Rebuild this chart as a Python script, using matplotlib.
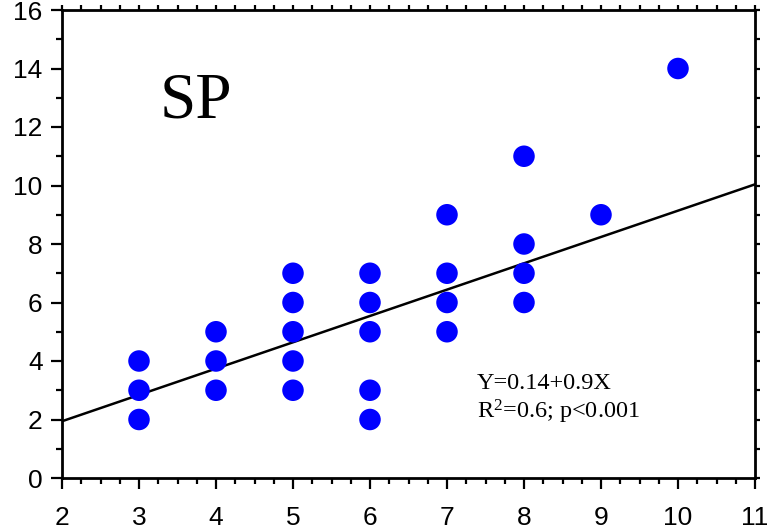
import matplotlib
matplotlib.use("Agg")
import matplotlib.pyplot as plt
import numpy as np
from matplotlib.ticker import MultipleLocator

x_vals = [3, 3, 3, 4, 4, 4, 5, 5, 5, 5, 5, 6, 6, 6, 6, 6, 7, 7, 7, 7, 8, 8, 8, 8, 9, 10]
y_vals = [2, 3, 4, 3, 4, 5, 3, 4, 5, 6, 7, 2, 3, 5, 6, 7, 5, 6, 7, 9, 6, 7, 8, 11, 9, 14]
intercept = 0.14
slope = 0.9
label = "SP"
eq_text = "Y=0.14+0.9X"
stat_text = "R$^2$=0.6; p<0.001"

plt.rcParams['font.family'] = ['Liberation Sans', 'DejaVu Sans']
plt.rcParams['mathtext.fontset'] = 'custom'
plt.rcParams['mathtext.rm'] = 'Liberation Serif'
plt.rcParams['mathtext.it'] = 'Liberation Serif:italic'
plt.rcParams['mathtext.bf'] = 'Liberation Serif:bold'

fig = plt.figure(figsize=(7.68, 5.32), dpi=100)
ax = fig.add_axes([62/768, 1-478/532, (755-62)/768, (478-10)/532])

ax.scatter(x_vals, y_vals, s=240, color='#0000ff', edgecolors='none', zorder=3)
xl = np.array([2, 11])
ax.plot(xl, intercept + slope * xl, color='black', lw=1.8, zorder=2)

ax.set_xlim(2, 11)
ax.set_ylim(0, 16)
ax.xaxis.set_major_locator(MultipleLocator(1))
ax.xaxis.set_minor_locator(MultipleLocator(0.25))
ax.yaxis.set_major_locator(MultipleLocator(2))
ax.yaxis.set_minor_locator(MultipleLocator(1))
for s in ax.spines.values():
    s.set_linewidth(2)
ax.tick_params(which='major', direction='out', length=8, width=1.6, labelsize=19)
ax.tick_params(which='minor', direction='out', length=4.3, width=1.6)
ax.tick_params(axis='x', which='major', pad=12)
ax.tick_params(axis='y', which='major', pad=6)

top = ax.secondary_xaxis('top')
top.xaxis.set_major_locator(MultipleLocator(0.25))
top.tick_params(direction='out', length=3.3, width=1.6, labeltop=False)
top.set_xticklabels([])
right = ax.secondary_yaxis('right')
right.yaxis.set_major_locator(MultipleLocator(1))
right.tick_params(direction='out', length=3.3, width=1.6, labelright=False)
right.set_yticklabels([])

ax.text((160-62)/693, (478-117)/468, label, transform=ax.transAxes,
        family=['Liberation Serif'], fontsize=47, va='baseline', ha='left')
ax.text((477-62)/693, (478-389)/468, eq_text, transform=ax.transAxes,
        family=['Liberation Serif'], fontsize=17.5, va='baseline', ha='left')
ax.text((477-62)/693, (478-418)/468, stat_text, transform=ax.transAxes,
        family=['Liberation Serif'], fontsize=17.5, va='baseline', ha='left')

fig.savefig('out.png', dpi=100)
